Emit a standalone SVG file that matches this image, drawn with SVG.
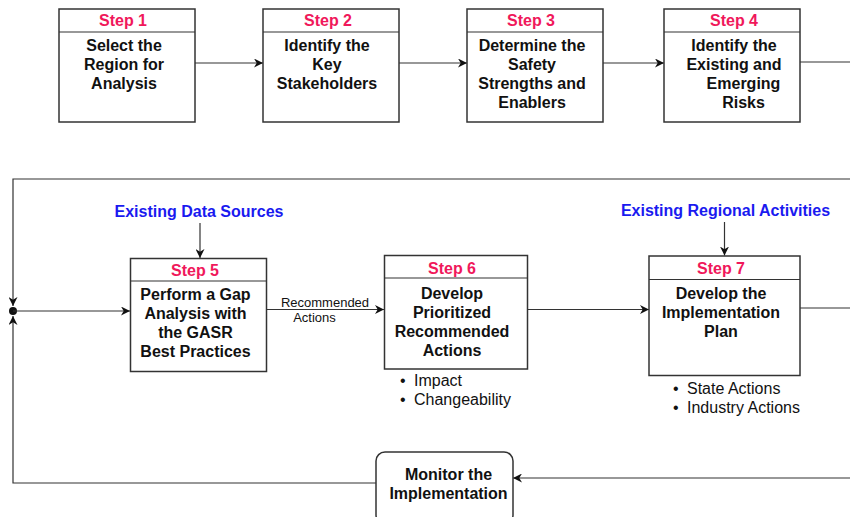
<svg xmlns="http://www.w3.org/2000/svg" width="850" height="517" viewBox="0 0 850 517">
<style>
.box{fill:#fff;stroke:#333;stroke-width:1.5}
.hdr{font-family:"Liberation Sans",Arial,sans-serif;font-weight:bold;font-size:16px;fill:#f0185b;text-anchor:middle}
.body{font-family:"Liberation Sans",Arial,sans-serif;font-weight:bold;font-size:16px;fill:#111;text-anchor:middle}
.src{font-family:"Liberation Sans",Arial,sans-serif;font-weight:bold;font-size:16px;fill:#1a1af0;text-anchor:middle}
.note{font-family:"Liberation Sans",Arial,sans-serif;font-size:16px;fill:#111}
.lbl{font-family:"Liberation Sans",Arial,sans-serif;font-size:13px;fill:#111;text-anchor:middle}
.ln{fill:none;stroke:#333;stroke-width:1.2}
</style>
<defs>
<marker id="ah" viewBox="0 0 10 10" refX="10" refY="5" markerWidth="9" markerHeight="9" markerUnits="userSpaceOnUse" orient="auto">
<path d="M0,0 L10,5 L0,10 L3,5 Z" fill="#111"/>
</marker>
</defs>

<g id="connectors">
<line class="ln" x1="195" y1="63" x2="263" y2="63" marker-end="url(#ah)"/>
<line class="ln" x1="399" y1="63" x2="467" y2="63" marker-end="url(#ah)"/>
<line class="ln" x1="603" y1="63" x2="664" y2="63" marker-end="url(#ah)"/>
<line class="ln" x1="800" y1="62" x2="850" y2="62"/>
<polyline class="ln" points="850,179 13,179 13,306" marker-end="url(#ah)"/>
<polyline class="ln" points="376,483 13,483 13,316" marker-end="url(#ah)"/>
<circle cx="13" cy="311" r="4" fill="#111"/>
<line class="ln" x1="13" y1="311" x2="130" y2="311" marker-end="url(#ah)"/>
<line class="ln" x1="267" y1="309.5" x2="384" y2="309.5" marker-end="url(#ah)"/>
<line class="ln" x1="528" y1="309.5" x2="649" y2="309.5" marker-end="url(#ah)"/>
<line class="ln" x1="800" y1="308" x2="850" y2="308"/>
<line class="ln" x1="850" y1="478" x2="513" y2="478" marker-end="url(#ah)"/>
<line class="ln" x1="200" y1="223" x2="200" y2="258" marker-end="url(#ah)"/>
<line class="ln" x1="724.5" y1="222" x2="724.5" y2="255.5" marker-end="url(#ah)"/>
<text class="lbl" x="325" y="306.5">Recommended</text>
<text class="lbl" x="314.5" y="322">Actions</text>
</g>

<g id="step1">
<rect class="box" x="59" y="9" width="136" height="113"/>
<line class="ln" x1="59" y1="32" x2="195" y2="32" stroke-width="1.5"/>
<text class="hdr" x="123" y="26">Step 1</text>
<text class="body" x="124" y="51">Select the</text>
<text class="body" x="124" y="70">Region for</text>
<text class="body" x="124" y="89">Analysis</text>
</g>

<g id="step2">
<rect class="box" x="263" y="9" width="136" height="113"/>
<line class="ln" x1="263" y1="32" x2="399" y2="32" stroke-width="1.5"/>
<text class="hdr" x="328" y="26">Step 2</text>
<text class="body" x="327" y="51">Identify the</text>
<text class="body" x="327" y="70">Key</text>
<text class="body" x="327" y="89">Stakeholders</text>
</g>

<g id="step3">
<rect class="box" x="467" y="9" width="136" height="113"/>
<line class="ln" x1="467" y1="32" x2="603" y2="32" stroke-width="1.5"/>
<text class="hdr" x="531" y="26">Step 3</text>
<text class="body" x="532" y="51">Determine the</text>
<text class="body" x="532" y="70">Safety</text>
<text class="body" x="532" y="89">Strengths and</text>
<text class="body" x="532" y="108">Enablers</text>
</g>

<g id="step4">
<rect class="box" x="664" y="9" width="136" height="113"/>
<line class="ln" x1="664" y1="32" x2="800" y2="32" stroke-width="1.5"/>
<text class="hdr" x="734" y="26">Step 4</text>
<text class="body" x="734" y="51">Identify the</text>
<text class="body" x="734" y="70">Existing and</text>
<text class="body" x="743.5" y="89">Emerging</text>
<text class="body" x="743.5" y="108">Risks</text>
</g>

<g id="src1">
<text class="src" x="199" y="217">Existing Data Sources</text>
</g>
<g id="src2">
<text class="src" x="725.5" y="216">Existing Regional Activities</text>
</g>

<g id="step5">
<rect class="box" x="130.5" y="258.5" width="136" height="113"/>
<line class="ln" x1="130.5" y1="281" x2="266.5" y2="281" stroke-width="1.5"/>
<text class="hdr" x="195" y="276">Step 5</text>
<text class="body" x="195.5" y="300">Perform a Gap</text>
<text class="body" x="195.5" y="319">Analysis with</text>
<text class="body" x="195.5" y="338">the GASR</text>
<text class="body" x="195.5" y="357">Best Practices</text>
</g>

<g id="step6">
<rect class="box" x="384.5" y="255.5" width="143" height="113.5"/>
<line class="ln" x1="384.5" y1="278" x2="527.5" y2="278" stroke-width="1.5"/>
<text class="hdr" x="452" y="273.5">Step 6</text>
<text class="body" x="452" y="298.5">Develop</text>
<text class="body" x="452" y="317.5">Prioritized</text>
<text class="body" x="452" y="336.5">Recommended</text>
<text class="body" x="452" y="355.5">Actions</text>
<text class="note" x="400" y="385.5">•</text>
<text class="note" x="414" y="385.5">Impact</text>
<text class="note" x="400" y="404.5">•</text>
<text class="note" x="414" y="404.5">Changeability</text>
</g>

<g id="step7">
<rect class="box" x="649" y="256" width="151" height="119.5"/>
<line class="ln" x1="649" y1="279.5" x2="800" y2="279.5" stroke-width="1.5"/>
<text class="hdr" x="721" y="273.5">Step 7</text>
<text class="body" x="721" y="298.5">Develop the</text>
<text class="body" x="721" y="317.5">Implementation</text>
<text class="body" x="721" y="336.5">Plan</text>
<text class="note" x="673" y="393.5">•</text>
<text class="note" x="687" y="393.5">State Actions</text>
<text class="note" x="673" y="412.5">•</text>
<text class="note" x="687" y="412.5">Industry Actions</text>
</g>

<g id="monitor">
<rect class="box" x="376" y="452" width="137" height="72" rx="9"/>
<text class="body" x="448.5" y="480">Monitor the</text>
<text class="body" x="448.5" y="499">Implementation</text>
</g>
</svg>
